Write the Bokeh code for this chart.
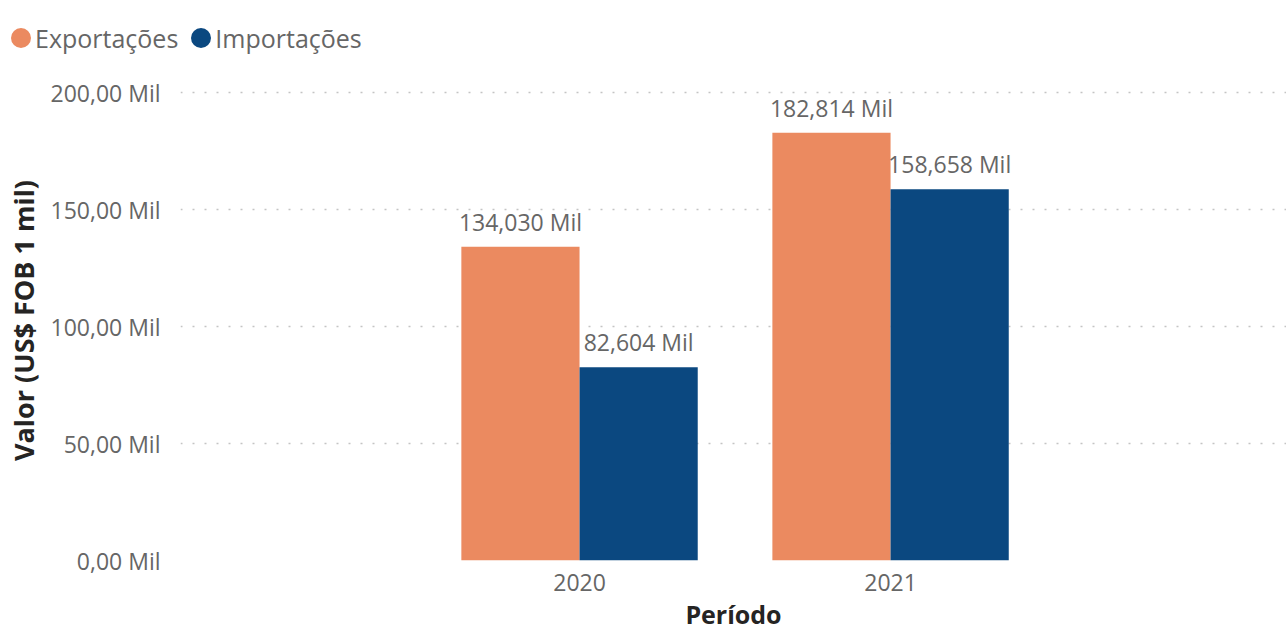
from bokeh.plotting import figure
from bokeh.models import ColumnDataSource, Range1d, FixedTicker, Legend, LegendItem
from bokeh.transform import dodge
from bokeh.core.properties import value
from bokeh.embed import file_html
from bokeh.resources import INLINE

# ---- data ----
periodos = ["2020", "2021"]
exportacoes = [134.030, 182.814]
importacoes = [82.604, 158.658]
series_names = ["Exportações", "Importações"]
y_ticks = [0, 50, 100, 150, 200]
y_tick_labels = ["0,00 Mil", "50,00 Mil", "100,00 Mil", "150,00 Mil", "200,00 Mil"]
y_title = "Valor (US$ FOB 1 mil)"
x_title = "Período"

# ---- style ----
C_EXP = "#EB8A60"
C_IMP = "#0B4880"
GREY = "#666666"
DARK = "#252423"
FONT = "Open Sans"
BAR_W = 0.38
W = 1286
LEG_H = 75
H = 633 - LEG_H


def fmt(v):
    return f"{v:.3f}".replace(".", ",") + " Mil"


xs = [int(p) for p in periodos]
src = ColumnDataSource(dict(
    x=xs,
    exp=exportacoes,
    imp=importacoes,
    exp_lbl=[fmt(v) for v in exportacoes],
    imp_lbl=[fmt(v) for v in importacoes],
))

# ---------------- legend strip (own root, frame = whole strip) ----------------
lf = figure(width=W, height=LEG_H, output_backend="svg", toolbar_location=None,
            x_axis_location=None, y_axis_location=None,
            x_range=Range1d(0, 1), y_range=Range1d(0, 1),
            min_border_left=0, min_border_right=0, min_border_top=0, min_border_bottom=0)
lf.outline_line_color = None
lf.grid.visible = False
# series markers (data lie outside this strip's view; used only for legend swatches)
d_exp = lf.scatter(x="x", y="exp", source=src, marker="circle", fill_color=C_EXP,
                   line_color=C_EXP, line_width=8.4)
d_imp = lf.scatter(x="x", y="imp", source=src, marker="circle", fill_color=C_IMP,
                   line_color=C_IMP, line_width=8.4)
legend = Legend(items=[LegendItem(label=series_names[0], renderers=[d_exp]),
                       LegendItem(label=series_names[1], renderers=[d_imp])],
                orientation="horizontal", location="center_left", margin=6,
                glyph_width=29, glyph_height=29, label_standoff=0, spacing=8,
                padding=0, border_line_color=None,
                background_fill_alpha=0,
                label_text_font=FONT, label_text_font_size="25px",
                label_text_color=GREY, label_text_baseline="middle")
lf.add_layout(legend, "center")

# ---------------- main chart ----------------
p = figure(width=W, height=H, output_backend="svg", toolbar_location=None,
           x_range=Range1d(xs[0] - 1.283, xs[-1] + 1.273),
           y_range=Range1d(0, 205.13),
           min_border_left=180, min_border_right=0,
           min_border_top=80 - LEG_H, min_border_bottom=73)
p.outline_line_color = None

r_exp = p.vbar(x=dodge("x", -BAR_W / 2, range=p.x_range), top="exp", width=BAR_W,
               source=src, fill_color=C_EXP, line_color=None)
r_imp = p.vbar(x=dodge("x", BAR_W / 2, range=p.x_range), top="imp", width=BAR_W,
               source=src, fill_color=C_IMP, line_color=None)

for col, lbl, off in (("exp", "exp_lbl", -BAR_W / 2), ("imp", "imp_lbl", BAR_W / 2)):
    p.text(x=dodge("x", off, range=p.x_range), y=col, text=lbl, source=src,
           text_align="center", text_baseline="bottom", y_offset=-9,
           text_font=value(FONT), text_font_size="23px", text_color=GREY)

# grid
p.xgrid.grid_line_color = None
p.ygrid.grid_line_color = "#c4c4c4"
p.ygrid.grid_line_dash = "2 10"
p.ygrid.grid_line_width = 1.5
p.ygrid.ticker = FixedTicker(ticks=y_ticks)

for ax in (p.xaxis[0], p.yaxis[0]):
    ax.axis_line_color = None
    ax.major_tick_line_color = None
    ax.minor_tick_line_color = None
    ax.major_tick_out = 0
    ax.major_tick_in = 0
    ax.minor_tick_out = 0
    ax.minor_tick_in = 0
    ax.major_label_text_font = FONT
    ax.major_label_text_font_size = "23px"
    ax.major_label_text_color = GREY
    ax.axis_label_text_font = FONT
    ax.axis_label_text_font_style = "bold"
    ax.axis_label_text_color = DARK

# y axis
ya = p.yaxis[0]
ya.ticker = FixedTicker(ticks=y_ticks)
ya.major_label_overrides = {t: l for t, l in zip(y_ticks, y_tick_labels)}
ya.major_label_standoff = 20
ya.axis_label = y_title
ya.axis_label_text_font_size = "27px"
ya.axis_label_standoff = 6

# x axis
xa = p.xaxis[0]
xa.ticker = FixedTicker(ticks=xs)
xa.major_label_overrides = {x: l for x, l in zip(xs, periodos)}
xa.major_label_standoff = 13
xa.axis_label = x_title
xa.axis_label_text_font_size = "25px"
xa.axis_label_standoff = 3

open("out.html", "w").write(file_html([lf, p], INLINE))
